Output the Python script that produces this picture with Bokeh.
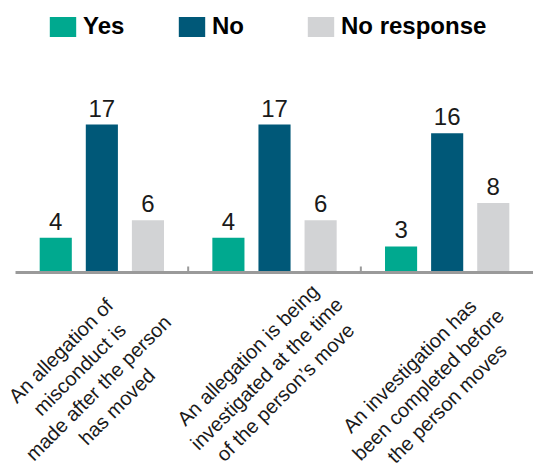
from bokeh.plotting import figure
from bokeh.models import Range1d, Legend, LegendItem, ColumnDataSource
from bokeh.core.properties import value
from bokeh.embed import file_html
from bokeh.resources import INLINE
import numpy as np

# ---- data ----
categories = [
    "An allegation of\nmisconduct is\nmade after the person\nhas moved",
    "An allegation is being\ninvestigated at the time\nof the person\u2019s move",
    "An investigation has\nbeen completed before\nthe person moves",
]
series = ["Yes", "No", "No response"]
yes_vals = [4, 4, 3]
no_vals = [17, 17, 16]
noresp_vals = [6, 6, 8]
colors = ["#00A98F", "#005878", "#D2D3D5"]

# ---- layout constants ----
group_idx = np.arange(len(categories))
offsets = [-0.267, 0.0, 0.267]
bar_w = 0.186
AXIS_GREY = "#9A9A9A"
label_dx = [-13, -8, -19]     # screen px offsets of rotated category labels
label_dy = [106, 101, 112]

p = figure(width=533, height=468,
           x_range=Range1d(-0.587, 2.5), y_range=Range1d(-22.5, 31.25),
           min_border=0, x_axis_location=None, y_axis_location=None,
           toolbar_location=None, output_backend="svg")
p.outline_line_color = None
p.xgrid.visible = False
p.ygrid.visible = False
p.background_fill_color = None
p.border_fill_color = None

renderers = []
for s, vals, col, off in zip(series, [yes_vals, no_vals, noresp_vals], colors, offsets):
    xs = group_idx + off
    src = ColumnDataSource(dict(x=xs, top=vals, lab=[str(v) for v in vals]))
    r = p.vbar(x="x", top="top", width=bar_w, bottom=0, source=src,
               fill_color=col, line_color=None)
    renderers.append(r)
    p.text(x="x", y="top", text="lab", source=src, text_align="center",
           text_baseline="bottom", y_offset=-8, text_font_size="24px",
           text_font=value("Liberation Sans"), text_color="#1a1a1a")

# baseline (category axis) and group separator ticks
p.segment(x0=[group_idx[0] - 0.5], y0=[0], x1=[group_idx[-1] + 0.5], y1=[0],
          line_color=AXIS_GREY, line_width=3)
seps = (group_idx[:-1] + 0.5).tolist()
p.segment(x0=seps, y0=[0] * len(seps), x1=seps, y1=[0.7] * len(seps),
          line_color=AXIS_GREY, line_width=2)

# category labels (rotated, multi-line, centred)
cat_src = ColumnDataSource(dict(x=group_idx, y=[0] * len(categories), text=categories,
                                dx=label_dx, dy=label_dy))
p.text(x="x", y="y", text="text", source=cat_src, angle=np.pi / 4,
       text_align="center", text_baseline="middle",
       x_offset="dx", y_offset="dy", text_font=value("Liberation Sans"),
       text_font_size="20px", text_color="#1a1a1a", text_line_height=1.2)

legend = Legend(items=[LegendItem(label=s, renderers=[r]) for s, r in zip(series, renderers)],
                orientation="horizontal", location=(46, 428))
legend.glyph_width = 33
legend.glyph_height = 25
legend.label_standoff = 4
legend.label_width = 52
legend.spacing = 40
legend.padding = 0
legend.margin = 0
legend.border_line_color = None
legend.background_fill_alpha = 0
legend.label_text_font = "Liberation Sans"
legend.label_text_font_style = "bold"
legend.label_text_font_size = "24px"
legend.label_text_color = "#000000"
p.add_layout(legend)

open("out.html", "w").write(file_html(p, INLINE))
